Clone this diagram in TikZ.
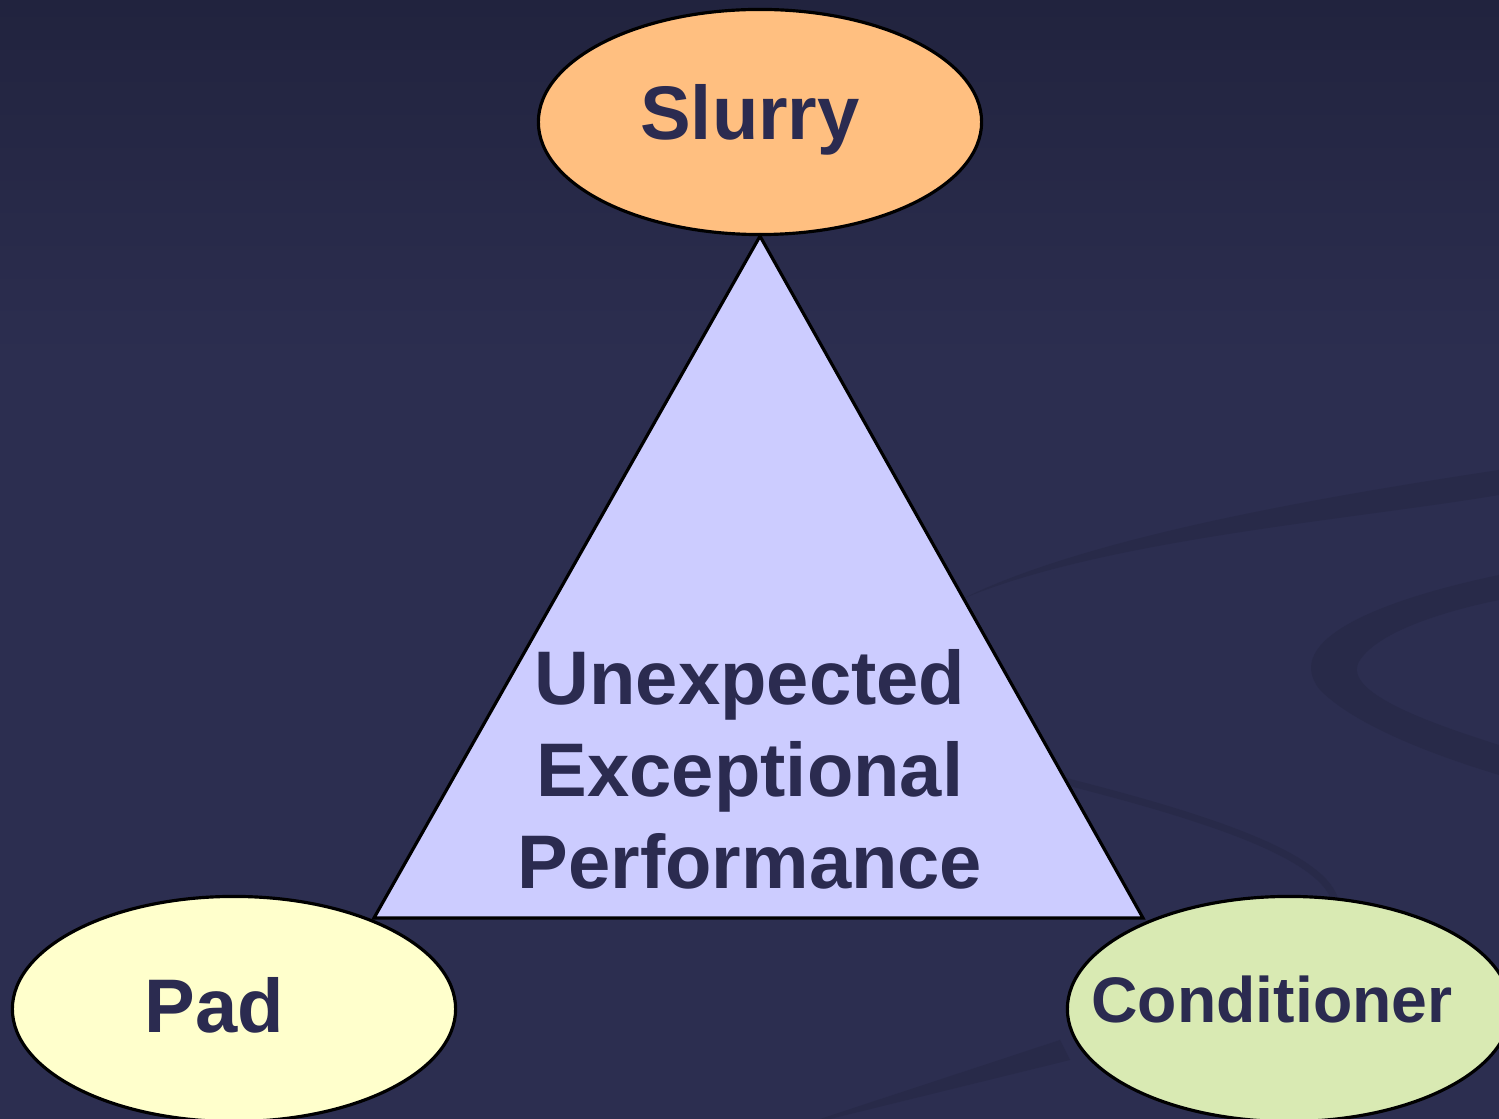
\documentclass[tikz,border=0pt]{standalone}
\usepackage{fontspec}
\setmainfont{Liberation Sans}
\usepackage{tikz}
\usetikzlibrary{shapes.geometric}
\definecolor{bgnavy}{RGB}{44,46,80}
\definecolor{bgtop}{RGB}{33,35,62}
\definecolor{swirl}{RGB}{40,42,73}
\definecolor{inknavy}{RGB}{43,43,80}
\definecolor{slurryorange}{RGB}{255,191,128}
\definecolor{padyellow}{RGB}{255,255,204}
\definecolor{condgreen}{RGB}{217,234,179}
\definecolor{perflilac}{RGB}{204,204,255}
% text placed off the middle of its ellipse: #1 = x shift, #2 = baseline shift
\newcommand{\offtext}[3]{\raisebox{#2}[0pt][0pt]{\makebox[0pt]{\kern#1\relax#3\kern-#1\relax}}}

\begin{document}
\begin{tikzpicture}[x=0.01cm, y=-0.01cm,
         blob/.style={
         % The shape:
         ellipse,
         % The size:
         minimum width=4.43cm,
         minimum height=2.25cm,
         inner sep=0pt,
         % The border
         draw=black, line width=0.9pt,
         % Font
         text=inknavy, font=\fontsize{21.6}{26}\selectfont\bfseries}]
         \useasboundingbox (0,0) rectangle (1499,1119);
         \clip (0,0) rectangle (1499,1119);
         % background
         \fill [bgnavy] (0,0) rectangle (1499,1119);
         \shade [top color=bgtop, bottom color=bgnavy] (0,0) rectangle (1499,360);
         \fill [swirl] (960,600) .. controls (1100,540) and (1350,520) .. (1499,495)
               -- (1499,470) .. controls (1300,500) and (1080,540) .. (960,600) -- cycle;
         \fill [swirl] (1499,575) .. controls (1380,600) and (1280,640) .. (1320,690)
               .. controls (1360,730) and (1450,760) .. (1499,775)
               -- (1499,745) .. controls (1420,720) and (1340,690) .. (1360,660)
               .. controls (1380,630) and (1450,610) .. (1499,600) -- cycle;
         \draw [swirl, line width=2pt] (1040,775) .. controls (1180,810) and (1320,850) .. (1335,900);
         \fill [swirl] (820,1119) -- (1060,1040) -- (1070,1060) -- (830,1119) -- cycle;
         % the triangle
         \node [blob, fill=slurryorange] (slurry) at (760,122) {\offtext{-0.1cm}{-0.18cm}{Slurry}};
         \coordinate (left) at (374,918);
         \coordinate (right) at (1143,918);
         \draw [fill=perflilac, draw=black, line width=0.9pt] (slurry.south) -- (right) -- (left) -- cycle;
         \node [text=inknavy, align=center, font=\fontsize{21.6}{26.2}\selectfont\bfseries]
               (perf) at (750,769) {Unexpected\\Exceptional\\Performance};
         % the corners
         \node [blob, fill=padyellow] (pad) at (234,1009) {\offtext{-0.2cm}{-0.23cm}{Pad}};
         \node [blob, fill=condgreen, font=\fontsize{18.3}{22}\selectfont\bfseries]
               (cond) at (1289,1009) {\offtext{-0.17cm}{-0.13cm}{Conditioner}};
\end{tikzpicture}
\end{document}
